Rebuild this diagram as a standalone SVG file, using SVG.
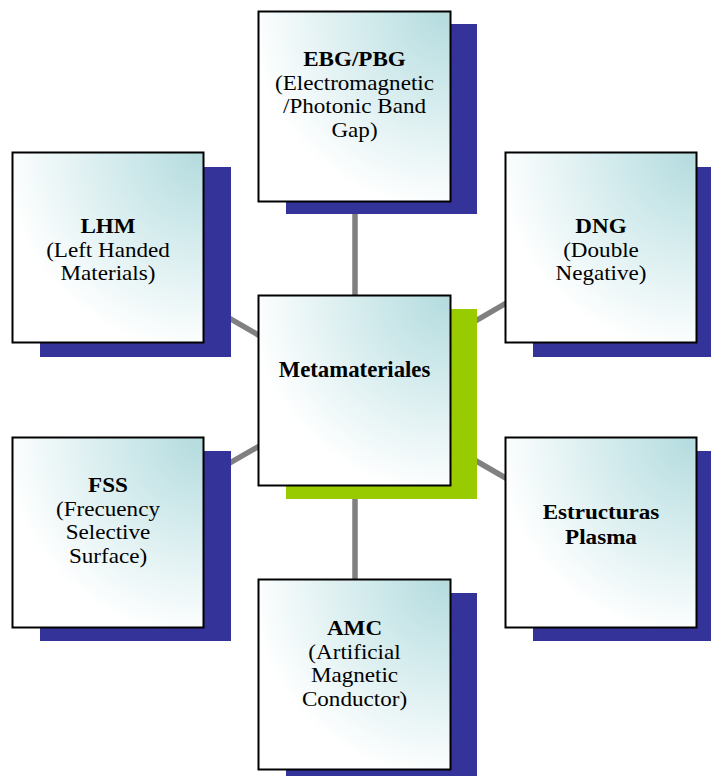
<svg xmlns="http://www.w3.org/2000/svg" width="711" height="776" viewBox="0 0 711 776">
  <style>
    .link { stroke: #808080; stroke-width: 5.5; fill: none; }
    .shadow { fill: #333399; }
    .shadow-main { fill: #99cc00; }
    .box { fill: url(#boxFill); stroke: #000000; stroke-width: 2; }
    .label { font-family: "Liberation Serif", "Times New Roman", serif; font-size: 21px; fill: #000000; text-anchor: middle; }
    .title { font-weight: bold; }
  </style>
  <defs>
    <radialGradient id="boxFill" cx="1" cy="0" r="1.05" fx="1" fy="0">
      <stop offset="0" stop-color="#b3dbde"/>
      <stop offset="0.35" stop-color="#cde8ea"/>
      <stop offset="1" stop-color="#ffffff"/>
    </radialGradient>
  </defs>
  <rect width="711" height="776" fill="#ffffff"/>

  <!-- spokes from the hub to each surrounding box -->
  <g id="connectors">
    <line class="link" x1="355" y1="391" x2="355" y2="107"/>
    <line class="link" x1="355" y1="391" x2="355" y2="675"/>
    <line class="link" x1="355" y1="391" x2="108" y2="248"/>
    <line class="link" x1="355" y1="391" x2="601" y2="248"/>
    <line class="link" x1="355" y1="391" x2="108" y2="533"/>
    <line class="link" x1="355" y1="391" x2="601" y2="533"/>
  </g>

  <g id="ebg">
    <rect class="shadow" x="286" y="24" width="191" height="190"/>
    <rect class="box" x="258.5" y="11.5" width="192" height="190"/>
    <g transform="translate(354.5 0) scale(1.1 1)">
      <text class="label title" x="0" y="66">EBG/PBG</text>
      <text class="label" x="0" y="89.7">(Electromagnetic</text>
      <text class="label" x="0" y="113.4">/Photonic Band</text>
      <text class="label" x="0" y="137.1">Gap)</text>
    </g>
  </g>

  <g id="lhm">
    <rect class="shadow" x="40" y="167" width="191" height="190"/>
    <rect class="box" x="12.5" y="152.5" width="191" height="190"/>
    <g transform="translate(108 0) scale(1.1 1)">
      <text class="label title" x="0" y="233">LHM</text>
      <text class="label" x="0" y="256.7">(Left Handed</text>
      <text class="label" x="0" y="280.4">Materials)</text>
    </g>
  </g>

  <g id="dng">
    <rect class="shadow" x="533" y="167" width="191" height="190"/>
    <rect class="box" x="505.5" y="152.5" width="191" height="190"/>
    <g transform="translate(601 0) scale(1.1 1)">
      <text class="label title" x="0" y="233">DNG</text>
      <text class="label" x="0" y="256.7">(Double</text>
      <text class="label" x="0" y="280.4">Negative)</text>
    </g>
  </g>

  <g id="fss">
    <rect class="shadow" x="40" y="451" width="191" height="190"/>
    <rect class="box" x="12.5" y="437.5" width="191" height="190"/>
    <g transform="translate(108 0) scale(1.1 1)">
      <text class="label title" x="0" y="492">FSS</text>
      <text class="label" x="0" y="515.7">(Frecuency</text>
      <text class="label" x="0" y="539.4">Selective</text>
      <text class="label" x="0" y="563.1">Surface)</text>
    </g>
  </g>

  <g id="plasma">
    <rect class="shadow" x="533" y="451" width="191" height="190"/>
    <rect class="box" x="505.5" y="437.5" width="191" height="190"/>
    <g transform="translate(601 0) scale(1.1 1)">
      <text class="label title" x="0" y="519.5">Estructuras</text>
      <text class="label title" x="0" y="544.5">Plasma</text>
    </g>
  </g>

  <g id="amc">
    <rect class="shadow" x="286" y="593" width="191" height="190"/>
    <rect class="box" x="258.5" y="579.5" width="192" height="190"/>
    <g transform="translate(354.5 0) scale(1.1 1)">
      <text class="label title" x="0" y="635">AMC</text>
      <text class="label" x="0" y="658.7">(Artificial</text>
      <text class="label" x="0" y="682.4">Magnetic</text>
      <text class="label" x="0" y="706.1">Conductor)</text>
    </g>
  </g>

  <g id="metamateriales">
    <rect class="shadow-main" x="286" y="309" width="191" height="190"/>
    <rect class="box" x="258.5" y="295.5" width="192" height="190"/>
    <g transform="translate(354.5 0) scale(0.99 1)">
      <text class="label title" x="0" y="376.7" style="font-size:23px">Metamateriales</text>
    </g>
  </g>
</svg>
